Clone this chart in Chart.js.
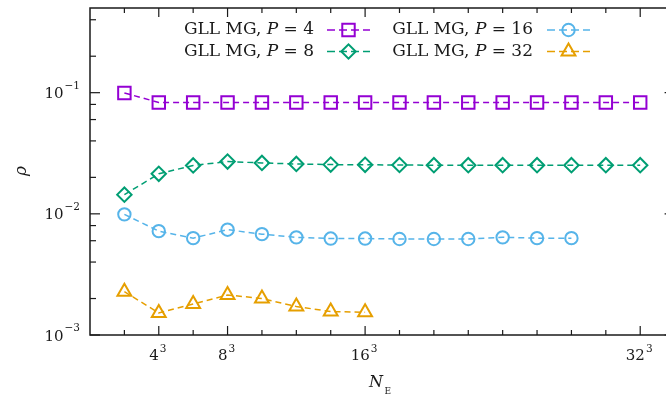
<!DOCTYPE html>
<html>
<head>
<meta charset="utf-8">
<script src="https://cdn.jsdelivr.net/npm/chart.js@4.4.0/dist/chart.umd.min.js"></script>
<style>
  html, body { margin: 0; padding: 0; background: #fff; overflow: hidden; }
  canvas { display: block; }
</style>
</head>
<body>
<canvas id="rhoChart" width="666" height="396"></canvas>
<script>
// number of elements per direction (N, shown as N^3)
const elementCounts = [2, 4, 6, 8, 10, 12, 14, 16, 18, 20, 22, 24, 26, 28, 30, 32];
const rhoP4  = [0.0995, 0.083, 0.083, 0.083, 0.083, 0.083, 0.083, 0.083, 0.083, 0.083, 0.083, 0.083, 0.083, 0.083, 0.083, 0.083];
const rhoP8  = [0.0144, 0.0214, 0.0251, 0.0270, 0.0263, 0.0258, 0.0255, 0.0254, 0.0253, 0.0252, 0.0252, 0.0252, 0.0252, 0.0252, 0.0252, 0.0252];
const rhoP16 = [0.0099, 0.0072, 0.0063, 0.0074, 0.0068, 0.0064, 0.00625, 0.00625, 0.0062, 0.0062, 0.0062, 0.0064, 0.0063, 0.0063];
const rhoP32 = [0.00228, 0.00152, 0.0018, 0.00214, 0.002, 0.00172, 0.00156, 0.00154];

const polyDegrees = ['4', '8', '16', '32'];
const xMajorTicks = [4, 8, 16, 32];
const xTickLabels = ['4', '8', '16', '32'];
const yMajorTicks = [1e-3, 1e-2, 1e-1];
const yTickExponents = ['\u22123', '\u22122', '\u22121'];
const yMinorFactors = [2, 4, 6, 8];
const xFrameEnd = 34;   // right frame lies just outside the picture

const colors = ['#9400d3', '#009e73', '#56b4e9', '#e69f00'];
const markers = ['rect', 'rectRot', 'circle', 'triangle'];
const markerRadius = [8.8, 7.2, 6.2, 8];
const serif = '"DejaVu Serif", "Liberation Serif", serif';

function makeSet(i, values) {
    return {
        label: 'GLL MG, P = ' + polyDegrees[i],
        data: values.map((v, k) => ({ x: elementCounts[k], y: v })),
        borderColor: colors[i],
        backgroundColor: 'transparent',
        borderWidth: 1.5,
        borderDash: [6, 4],
        pointStyle: markers[i],
        pointRadius: markerRadius[i],
        pointHoverRadius: markerRadius[i],
        pointBorderWidth: 2,
        pointBorderColor: colors[i],
        pointBackgroundColor: 'transparent',
        tension: 0,
        fill: false
    };
}

function line(ctx, x1, y1, x2, y2) {
    ctx.beginPath();
    ctx.moveTo(x1, y1);
    ctx.lineTo(x2, y2);
    ctx.stroke();
}

// frame, inward ticks, tick labels, axis titles and legend
const decorations = {
    id: 'decorations',
    afterDraw(chart) {
        const { ctx, chartArea: a, scales: { x, y } } = chart;
        const right = x.getPixelForValue(xFrameEnd);
        ctx.save();
        ctx.strokeStyle = '#1a1a1a';
        ctx.lineWidth = 1.5;
        ctx.setLineDash([]);
        ctx.strokeRect(a.left, a.top, right - a.left, a.bottom - a.top);

        ctx.lineWidth = 1.2;
        elementCounts.forEach(n => {
            const px = x.getPixelForValue(n);
            const len = xMajorTicks.includes(n) ? 9 : 5;
            line(ctx, px, a.bottom, px, a.bottom - len);
            line(ctx, px, a.top, px, a.top + len);
        });
        yMajorTicks.forEach(v => {
            const py = y.getPixelForValue(v);
            line(ctx, a.left, py, a.left + 10, py);
            line(ctx, right, py, right - 10, py);
            yMinorFactors.forEach(f => {
                const val = v * f;
                if (val > y.max) return;
                const pm = y.getPixelForValue(val);
                line(ctx, a.left, pm, a.left + 6, pm);
                line(ctx, right, pm, right - 6, pm);
            });
        });

        ctx.fillStyle = '#1a1a1a';
        ctx.textBaseline = 'alphabetic';
        // y tick labels 10^k
        yMajorTicks.forEach((v, i) => {
            const py = y.getPixelForValue(v);
            ctx.font = '10.5px ' + serif;
            const supW = ctx.measureText(yTickExponents[i]).width;
            ctx.textAlign = 'right';
            ctx.fillText(yTickExponents[i], 80, py - 4);
            ctx.font = '15px ' + serif;
            ctx.fillText('10', 80 - supW - 1, py + 5.5);
        });
        // x tick labels n^3
        xMajorTicks.forEach((n, i) => {
            const px = x.getPixelForValue(n);
            ctx.font = '15px ' + serif;
            const baseW = ctx.measureText(xTickLabels[i]).width;
            ctx.font = '10.5px ' + serif;
            const supW = ctx.measureText('3').width;
            const left = px - 1 - (baseW + 1 + supW) / 2;
            ctx.textAlign = 'left';
            ctx.font = '15px ' + serif;
            ctx.fillText(xTickLabels[i], left, 359.5);
            ctx.font = '10.5px ' + serif;
            ctx.fillText('3', left + baseW + 1, 351.5);
        });
        // axis titles
        ctx.textAlign = 'left';
        ctx.font = 'italic 16px ' + serif;
        ctx.fillText('N', 369, 387);
        ctx.font = '9px ' + serif;
        ctx.fillText('E', 384.5, 393.5);
        ctx.save();
        ctx.translate(26, 171);
        ctx.rotate(-Math.PI / 2);
        ctx.textAlign = 'center';
        ctx.font = 'italic 17px ' + serif;
        ctx.fillText('\u03c1', 0, 0);
        ctx.restore();

        // legend: two columns, text then line sample
        const textEnds = [314, 314, 533, 533];
        const rows = [34, 55.5, 34, 55.5];
        const sampleStart = [327, 327, 547, 547];
        chart.data.datasets.forEach((ds, i) => {
            const end = textEnds[i];
            const base = rows[i];
            ctx.font = '17px ' + serif;
            const partA = 'GLL MG, ';
            const partC = ' = ' + polyDegrees[i];
            const wA = ctx.measureText(partA).width;
            const wC = ctx.measureText(partC).width;
            ctx.font = 'italic 17px ' + serif;
            const wB = ctx.measureText('P').width;
            const cx = end - (wA + wB + wC);
            ctx.fillStyle = '#1a1a1a';
            ctx.textAlign = 'left';
            ctx.font = '17px ' + serif;
            ctx.fillText(partA, cx, base);
            ctx.font = 'italic 17px ' + serif;
            ctx.fillText('P', cx + wA, base);
            ctx.font = '17px ' + serif;
            ctx.fillText(partC, cx + wA + wB, base);

            const my = base - 4;
            const sx = sampleStart[i];
            ctx.strokeStyle = ds.borderColor;
            ctx.lineWidth = 1.5;
            ctx.setLineDash([8, 4]);
            line(ctx, sx, my, sx + 43, my);
            ctx.setLineDash([]);
            ctx.lineWidth = 2;
            ctx.fillStyle = 'rgba(0,0,0,0)';
            Chart.helpers.drawPoint(ctx, {
                pointStyle: ds.pointStyle,
                radius: ds.pointRadius,
                rotation: 0,
                borderWidth: 2
            }, sx + 21.5, my);
        });
        ctx.restore();
    }
};

const ctx = document.getElementById('rhoChart').getContext('2d');
const rhoChart = new Chart(ctx, {
    type: 'line',
    data: {
        datasets: [
            makeSet(0, rhoP4),
            makeSet(1, rhoP8),
            makeSet(2, rhoP16),
            makeSet(3, rhoP32)
        ]
    },
    options: {
        responsive: false,
        animation: false,
        devicePixelRatio: 1,
        layout: { autoPadding: false, padding: { left: 90, top: 8, right: 0, bottom: 61 } },
        plugins: {
            legend: { display: false },
            tooltip: { enabled: false }
        },
        scales: {
            x: { type: 'linear', min: 0, max: 33.5, display: false },
            y: { type: 'logarithmic', min: 1e-3, max: 0.5, display: false }
        }
    },
    plugins: [decorations]
});
</script>
</body>
</html>
